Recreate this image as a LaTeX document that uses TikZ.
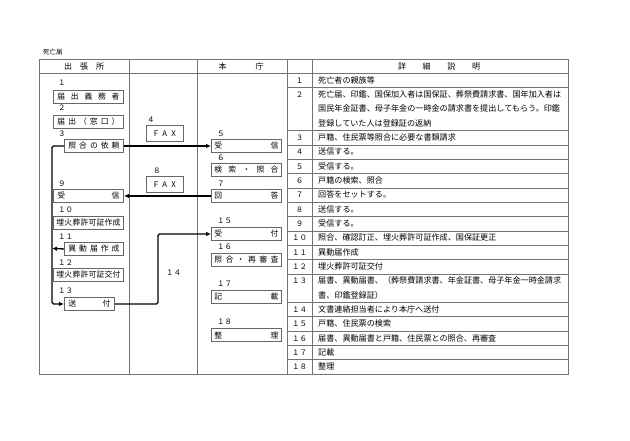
\documentclass[tikz,border=0pt]{standalone}
\usepackage{fontspec}
\setmainfont{Noto Sans CJK JP}
\usetikzlibrary{arrows.meta,positioning}

\tikzset{
  tablerule/.style={draw=black!55, line width=0.6pt},
  flowbox/.style={draw=black!60, line width=0.9pt, anchor=north west, inner sep=0pt,
    minimum width=70pt, minimum height=13pt, font=\fontsize{7.8}{9}\selectfont},
  numlabel/.style={anchor=west, inner sep=0pt, font=\fontsize{7.5}{9}\selectfont},
  flow/.style={line width=1.3pt, rounded corners=1.5pt, -{Latex[length=5pt,width=4.5pt]}},
  cellnum/.style={anchor=base, inner sep=0pt, font=\fontsize{7.5}{14.32}\selectfont},
  cell/.style={anchor=base west, inner sep=0pt, font=\fontsize{8.1}{14.32}\selectfont},
  headtext/.style={anchor=center, inner sep=0pt, font=\fontsize{8}{9}\selectfont},
}
\newcommand\jspread[2]{\makebox[#1][s]{#2}}
\newcommand\celllines[1]{\vtop{#1}}

\begin{document}
\begin{tikzpicture}[x=1pt,y=-1pt]
\path[use as bounding box, fill=white] (0,0) rectangle (630,440);

\node[anchor=west, inner sep=0pt, font=\fontsize{6.5}{8}\selectfont] (title) at (43,52) {死亡届};

% frames
\draw[tablerule] (39,59) rectangle (568,374);
\draw[tablerule] (39,73.3) -- (568,73.3);
\foreach \x in {129,197,287,312}
  \draw[tablerule] (\x,59) -- (\x,374);
\foreach \u in {2,5,6,7,8,9,10,11,12,13,14,15,17,18,19,20,21}
  \draw[tablerule] (287,{59+\u*14.32}) -- (568,{59+\u*14.32});

\node[headtext] (hshutcho) at (84,66.2) {\jspread{40pt}{出\hfil 張\hfil 所}};
\node[headtext] (hhoncho) at (241,66.2) {\jspread{45pt}{本\hfil 庁}};
\node[headtext] (hsetsumei) at (439,66.2) {\jspread{82pt}{詳\hfil 細\hfil 説\hfil 明}};

% left column
\node[flowbox] (gimusha) at (53,90) {\jspread{62pt}{届\hfil 出\hfil 義\hfil 務\hfil 者}};
\node[numlabel] at (58,83) {１};
\node[flowbox] (madoguchi) at (53,115) {\jspread{62pt}{届\hfil 出\hfil （\hfil 窓\hfil 口\hfil ）}};
\node[numlabel] at (58,108) {２};
\node[flowbox, minimum width=59pt] (irai) at (64,139) {\jspread{51pt}{照\hfil 合\hfil の\hfil 依\hfil 頼}};
\node[numlabel] at (58,134) {３};
\node[flowbox] (jushinB) at (53,189) {\jspread{62pt}{受\hfil 信}};
\node[numlabel] at (58,184) {９};
\node[flowbox] (sakusei) at (53,216) {\jspread{64pt}{埋\hfil 火\hfil 葬\hfil 許\hfil 可\hfil 証\hfil 作\hfil 成}};
\node[numlabel] at (58,210) {１０};
\node[flowbox, minimum width=59pt] (idou) at (64,242) {\jspread{51pt}{異\hfil 動\hfil 届\hfil 作\hfil 成}};
\node[numlabel] at (58,237) {１１};
\node[flowbox] (kofu) at (53,268) {\jspread{64pt}{埋\hfil 火\hfil 葬\hfil 許\hfil 可\hfil 証\hfil 交\hfil 付}};
\node[numlabel] at (58,263) {１２};
\node[flowbox, minimum width=50pt] (sofu) at (64,297) {\jspread{42pt}{送\hfil 付}};
\node[numlabel] at (58,291) {１３};

% middle column
\node[flowbox, minimum width=37pt, minimum height=16pt] (faxA) at (146,125) {\jspread{22pt}{F\hfil A\hfil X}};
\node[numlabel] at (147,120) {４};
\node[flowbox, minimum width=37pt, minimum height=16pt] (faxB) at (146,176) {\jspread{22pt}{F\hfil A\hfil X}};
\node[numlabel] at (153,171) {８};
\node[numlabel] (label14) at (166,273) {１４};

% honcho column
\node[flowbox] (jushinA) at (211,139) {\jspread{64pt}{受\hfil 信}};
\node[numlabel] at (217,134) {５};
\node[flowbox] (kensaku) at (211,163) {\jspread{64pt}{検\hfil 索\hfil ・\hfil 照\hfil 合}};
\node[numlabel] at (217,158) {６};
\node[flowbox] (kaito) at (211,189) {\jspread{64pt}{回\hfil 答}};
\node[numlabel] at (217,184) {７};
\node[flowbox] (uketsuke) at (211,227) {\jspread{64pt}{受\hfil 付}};
\node[numlabel] at (217,221) {１５};
\node[flowbox] (shinsa) at (211,253) {\jspread{64pt}{照\hfil 合\hfil ・\hfil 再\hfil 審\hfil 査}};
\node[numlabel] at (217,247) {１６};
\node[flowbox] (kisai) at (211,290) {\jspread{64pt}{記\hfil 載}};
\node[numlabel] at (217,284) {１７};
\node[flowbox] (seiri) at (211,328) {\jspread{64pt}{整\hfil 理}};
\node[numlabel] at (217,322) {１８};

% connectors
\coordinate (idouend) at (52,248.5);
\coordinate (relay) at (158,270);
\draw[flow] (irai.east) -- (jushinA.west);
\draw[flow] (irai.west) -- ++(-12,0) |- (sofu.west);
\draw[flow] (kaito.west) -- (jushinB.east);
\draw[flow] (idou.west) -- (idouend);
\draw[flow] (sofu.east) -| (relay) |- (uketsuke.west);

% explanation table
\foreach \num/\u/\txt in {
  １/1/{死亡者の親族等},
  ２/2/{\celllines{\hbox{死亡届、印鑑、国保加入者は国保証、葬祭費請求書、国年加入者は}\hbox{国民年金証書、母子年金の一時金の請求書を提出してもらう。印鑑}\hbox{登録していた人は登録証の返納}}},
  ３/5/{戸籍、住民票等照合に必要な書類請求},
  ４/6/{送信する。},
  ５/7/{受信する。},
  ６/8/{戸籍の検索、照合},
  ７/9/{回答をセットする。},
  ８/10/{送信する。},
  ９/11/{受信する。},
  １０/12/{照合、確認訂正、埋火葬許可証作成、国保証更正},
  １１/13/{異動届作成},
  １２/14/{埋火葬許可証交付},
  １３/15/{\celllines{\hbox{届書、異動届書、（葬祭費請求書、年金証書、母子年金一時金請求}\hbox{書、印鑑登録証）}}},
  １４/17/{文書連絡担当者により本庁へ送付},
  １５/18/{戸籍、住民票の検索},
  １６/19/{届書、異動届書と戸籍、住民票との照合、再審査},
  １７/20/{記載},
  １８/21/{整理}}
{
  \node[cellnum] (num\u) at (299.5,{59+(\u+0.5)*14.32+2.8}) {\num};
  \node[cell] (txt\u) at (318,{59+(\u+0.5)*14.32+2.8}) {\txt};
}
\end{tikzpicture}
\end{document}
